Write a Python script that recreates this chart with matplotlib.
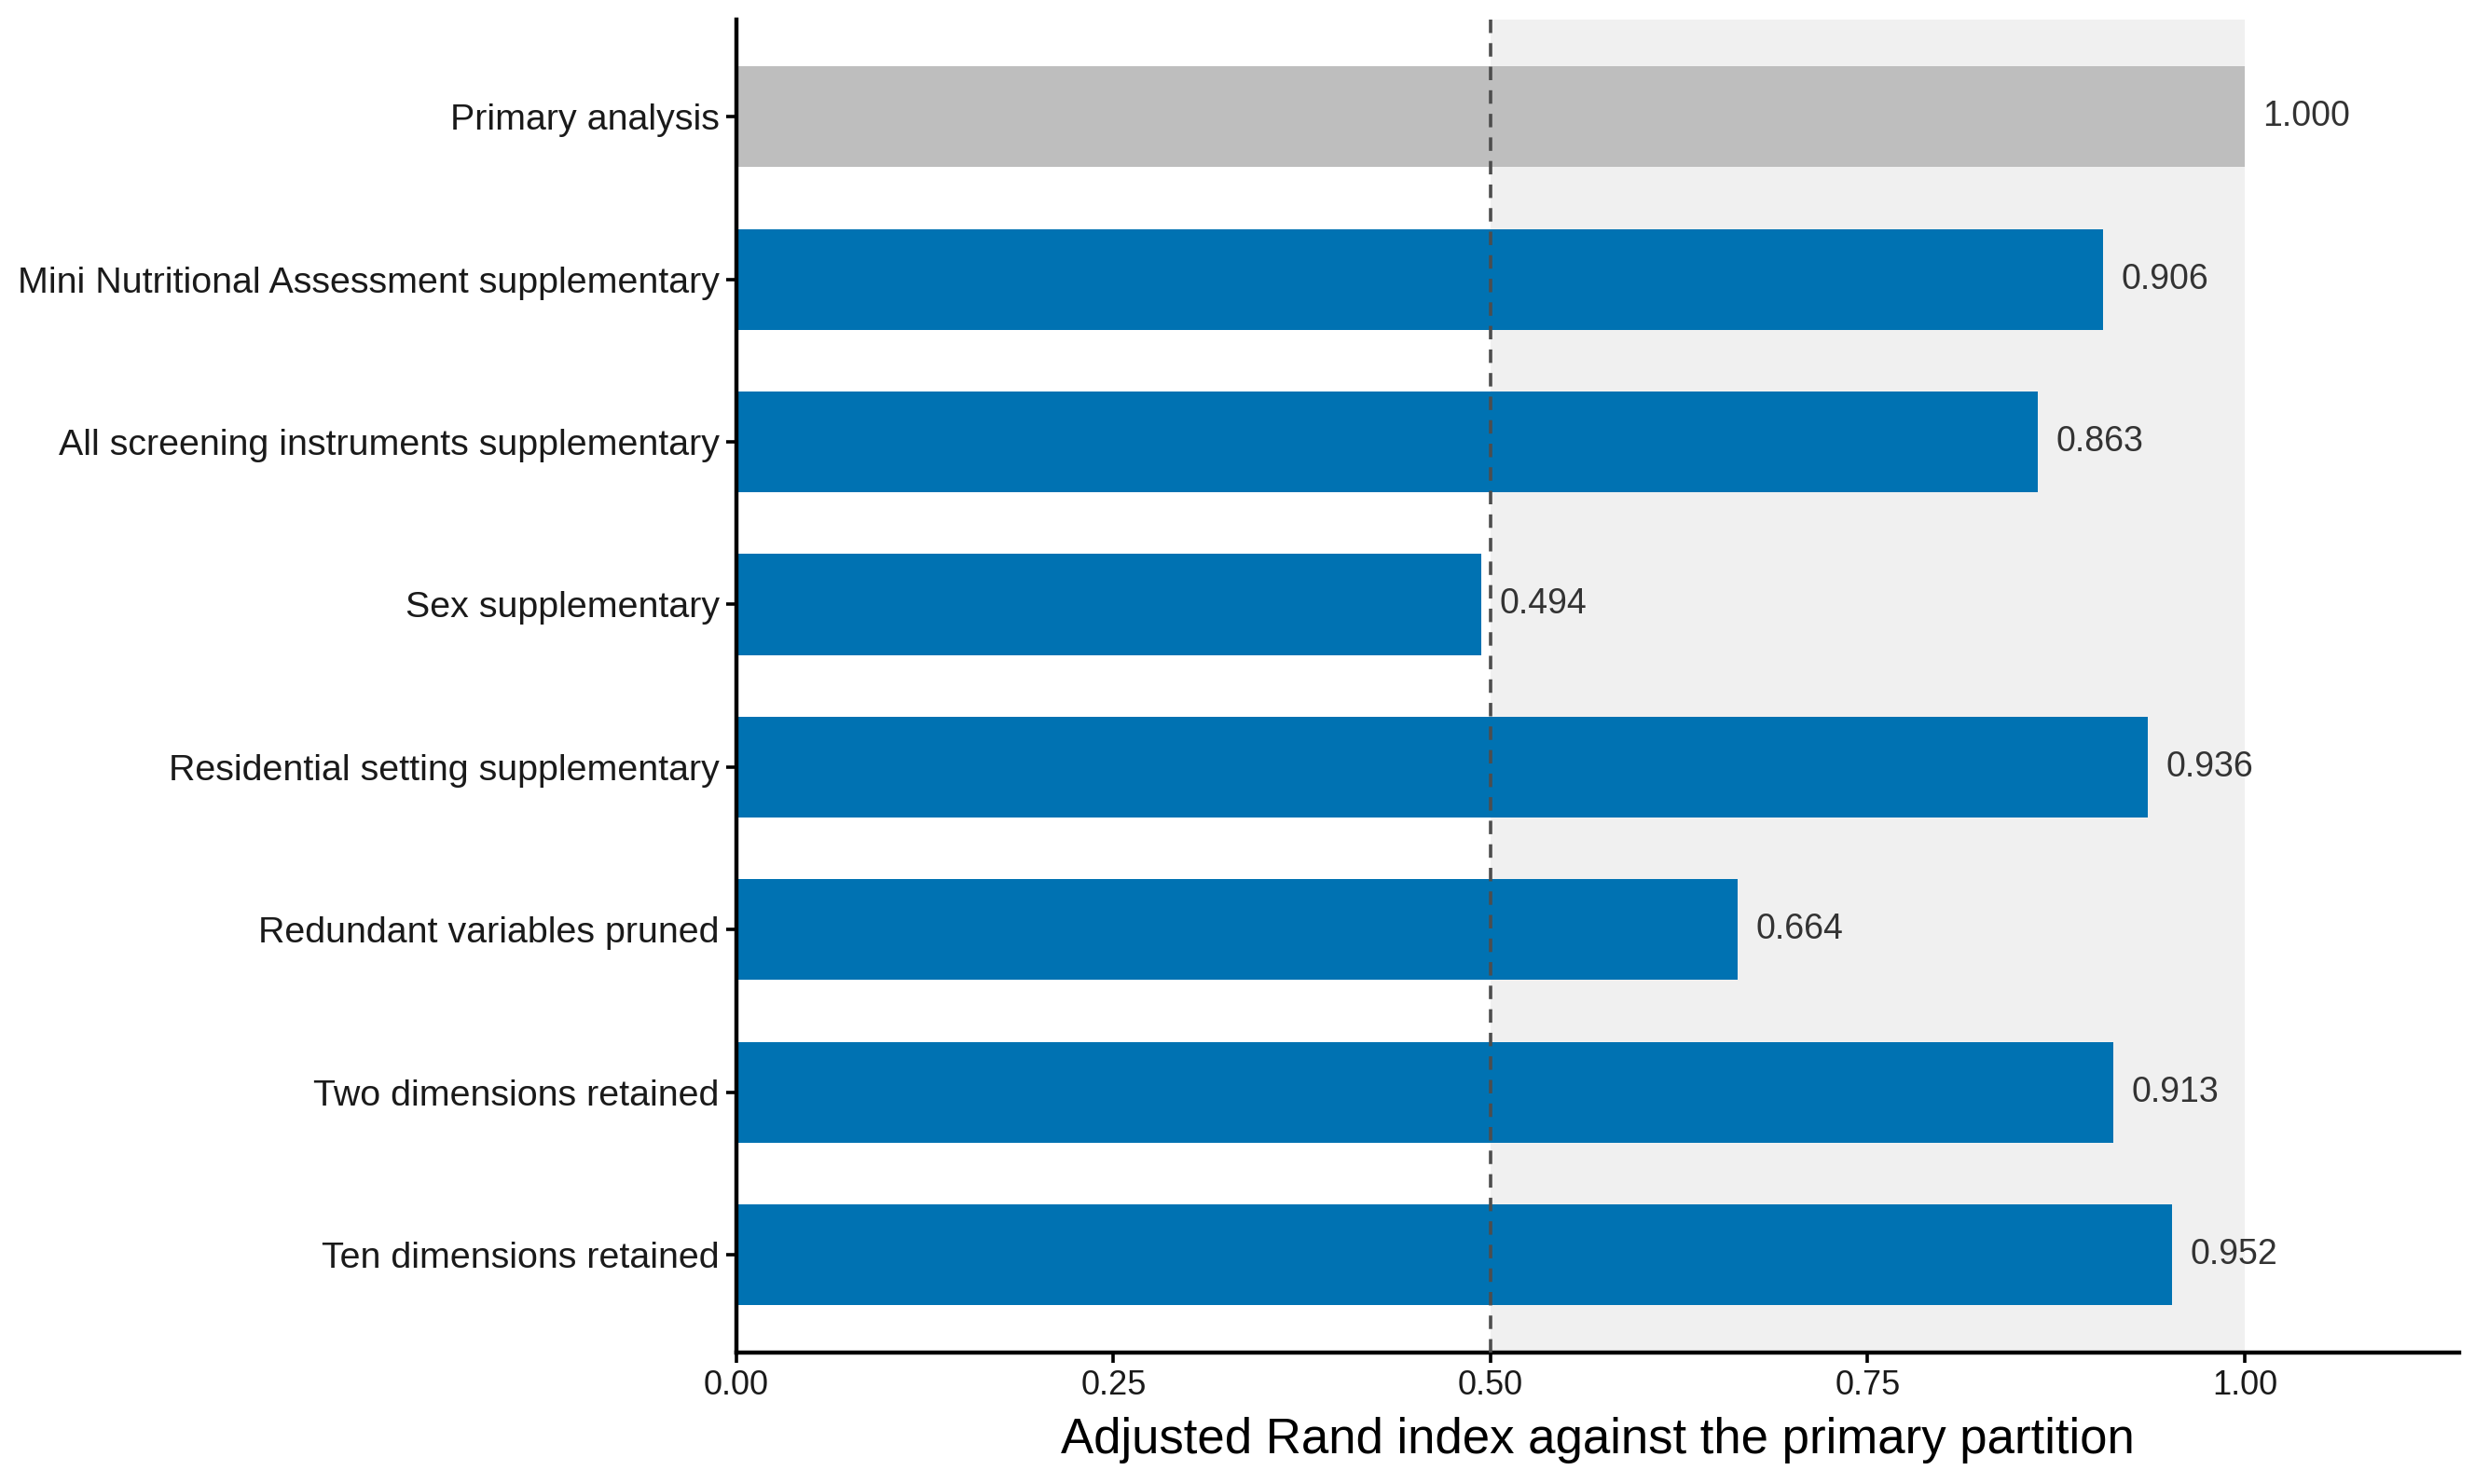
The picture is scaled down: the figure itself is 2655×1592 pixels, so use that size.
import matplotlib
matplotlib.use("Agg")
import matplotlib.pyplot as plt

# sensitivity analyses, top to bottom
labels = [
    "Primary analysis",
    "Mini Nutritional Assessment supplementary",
    "All screening instruments supplementary",
    "Sex supplementary",
    "Residential setting supplementary",
    "Redundant variables pruned",
    "Two dimensions retained",
    "Ten dimensions retained",
]
ari = [1.000, 0.906, 0.863, 0.494, 0.936, 0.664, 0.913, 0.952]
is_primary = [True, False, False, False, False, False, False, False]

xticks = [0.0, 0.25, 0.5, 0.75, 1.0]

BLUE = "#0072B2"
GREY = "#BEBEBE"

plt.rcParams["font.family"] = ["Liberation Sans", "DejaVu Sans"]

fig = plt.figure(figsize=(13.275, 7.96), dpi=200)
ax = fig.add_axes([0.2975, 0.0888, 0.6960, 0.8982])

ax.axvspan(0.5, 1.0, color="#F0F0F0", zorder=0, lw=0)

ypos = list(range(len(labels)))
colors = [GREY if p else BLUE for p in is_primary]
ax.barh(ypos, ari, height=0.62, color=colors, zorder=2)
ax.axvline(0.5, color="#4D4D4D", ls=(0, (4, 3)), lw=1.3, zorder=3)

for y, v in zip(ypos, ari):
    ax.text(v + 0.012, y, f"{v:.3f}", va="center", ha="left",
            fontsize=13.5, color="#333333", zorder=4)

ax.set_yticks(ypos)
ax.set_yticklabels(labels, fontsize=14.2, color="#1A1A1A")
ax.set_ylim(7.6, -0.6)
ax.set_xlim(0, 1.142)
ax.set_xticks(xticks)
ax.set_xticklabels([f"{t:.2f}" for t in xticks], fontsize=13, color="#1A1A1A")
ax.set_xlabel("Adjusted Rand index against the primary partition",
              fontsize=19, color="black", labelpad=6)

for side in ["top", "right"]:
    ax.spines[side].set_visible(False)
for side in ["left", "bottom"]:
    ax.spines[side].set_linewidth(1.6)
    ax.spines[side].set_color("black")
ax.tick_params(length=4, width=1.3, color="black", pad=2.5)

fig.savefig("out.png", dpi=200, facecolor="white")
